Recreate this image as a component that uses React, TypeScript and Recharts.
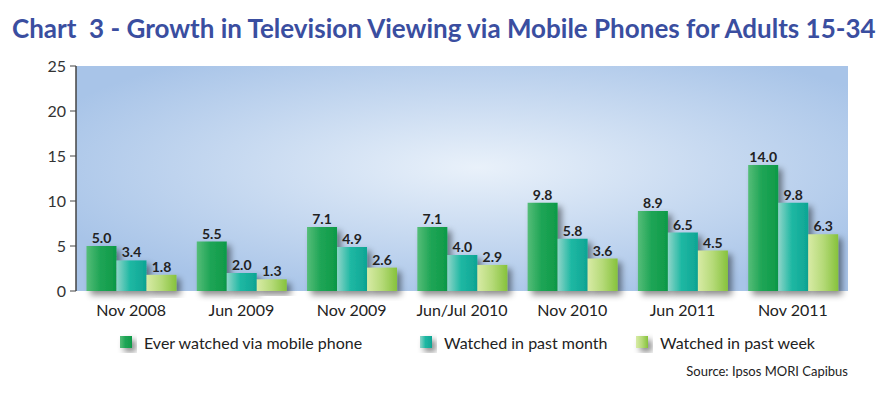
import { BarChart, Bar, XAxis, YAxis, CartesianGrid, LabelList } from 'recharts';

const periods = ['Nov 2008', 'Jun 2009', 'Nov 2009', 'Jun/Jul 2010', 'Nov 2010', 'Jun 2011', 'Nov 2011'];
const everWatched = [5.0, 5.5, 7.1, 7.1, 9.8, 8.9, 14.0];
const pastMonth = [3.4, 2.0, 4.9, 4.0, 5.8, 6.5, 9.8];
const pastWeek = [1.8, 1.3, 2.6, 2.9, 3.6, 4.5, 6.3];
const yTicks = [0, 5, 10, 15, 20, 25];
const boundaryTicks = [0, 1, 2, 3, 4, 5, 6, 7];

const seriesNames = ['Ever watched via mobile phone', 'Watched in past month', 'Watched in past week'];

const data = periods.map((p, i) => ({
  period: p,
  idx: i + 0.5,
  ever: everWatched[i],
  month: pastMonth[i],
  week: pastWeek[i],
}));

const FONT = 'Lato, "Open Sans", sans-serif';
const grads = ['gEver', 'gMonth', 'gWeek'];

function ChartLegend() {
  const lefts = [120, 420, 636];
  return (
    <div style={{ position: 'absolute', left: 0, top: 332, width: 885, height: 24, fontFamily: FONT }}>
      {seriesNames.map((n, i) => (
        <div key={n} style={{ position: 'absolute', left: lefts[i], top: 0, display: 'flex', alignItems: 'center' }}>
          <svg width={16} height={20} style={{ overflow: 'visible' }}>
            <rect x={0} y={4} width={12} height={12} fill={`url(#${grads[i]})`} filter="url(#shadow)" />
          </svg>
          <span style={{ fontSize: 16, color: '#222', marginLeft: 8 }}>{n}</span>
        </div>
      ))}
    </div>
  );
}

export default function App() {
  return (
    <div style={{ position: 'absolute', left: 0, top: 0, width: 885, height: 395, background: '#fff' }}>
      <div
        style={{
          position: 'absolute',
          left: 12,
          top: 12,
          whiteSpace: 'pre',
          fontFamily: FONT,
          fontWeight: 700,
          fontSize: 26,
          lineHeight: '32px',
          color: '#3a4ea0',
        }}
      >
        Chart  3 - Growth in Television Viewing via Mobile Phones for Adults 15-34
      </div>
      <div style={{ position: 'absolute', left: 0, top: 0 }}>
        <BarChart
          width={885}
          height={395}
          data={data}
          margin={{ top: 66, right: 37, bottom: 74, left: 0 }}
          barCategoryGap="9.5%"
          barGap={0}
        >
          <defs>
            <radialGradient id="bgGrad" cx="0.52" cy="0.45" r="0.6" fx="0.52" fy="0.45">
              <stop offset="0%" stopColor="#e9f1fa" />
              <stop offset="55%" stopColor="#c5d8f0" />
              <stop offset="100%" stopColor="#a8c4e8" />
            </radialGradient>
            <linearGradient id="gEver" x1="0" y1="0" x2="1" y2="0">
              <stop offset="0%" stopColor="#55bd78" />
              <stop offset="45%" stopColor="#1fa556" />
              <stop offset="100%" stopColor="#0e9a48" />
            </linearGradient>
            <linearGradient id="gMonth" x1="0" y1="0" x2="1" y2="0">
              <stop offset="0%" stopColor="#8fd5c9" />
              <stop offset="45%" stopColor="#1fb8a3" />
              <stop offset="100%" stopColor="#0ea594" />
            </linearGradient>
            <linearGradient id="gWeek" x1="0" y1="0" x2="1" y2="0">
              <stop offset="0%" stopColor="#d8eba6" />
              <stop offset="50%" stopColor="#b5da78" />
              <stop offset="100%" stopColor="#86c23c" />
            </linearGradient>
            <filter id="shadow" x="-20%" y="-20%" width="160%" height="160%">
              <feDropShadow dx={4} dy={4} stdDeviation={3} floodColor="#000" floodOpacity={0.45} />
            </filter>
          </defs>
          <CartesianGrid fill="url(#bgGrad)" horizontal={false} vertical={false} />
          <XAxis
            xAxisId="bounds"
            type="number"
            dataKey="idx"
            domain={[0, 7]}
            ticks={boundaryTicks}
            tick={false}
            height={0}
            axisLine={{ stroke: '#444', strokeWidth: 1.5 }}
            tickLine={{ stroke: '#444' }}
            tickSize={6}
          />
          <XAxis
            dataKey="period"
            height={30}
            axisLine={false}
            tickLine={false}
            tick={{ fill: '#222', fontSize: 16, fontFamily: FONT }}
            tickMargin={8}
            interval={0}
          />
          <XAxis xAxisId="top" dataKey="period" orientation="top" height={0} tick={false} tickLine={false} axisLine={{ stroke: '#555' }} />
          <YAxis
            domain={[0, 25]}
            ticks={yTicks}
            width={76}
            axisLine={{ stroke: '#444', strokeWidth: 1.5 }}
            tickLine={{ stroke: '#444' }}
            tickSize={6}
            tick={{ fill: '#333', fontSize: 16, fontFamily: FONT }}
            tickMargin={4}
          />
          <YAxis yAxisId="right" orientation="right" width={0} tick={false} tickLine={false} axisLine={{ stroke: '#555' }} />
          {(['ever', 'month', 'week'] as const).map((k, i) => (
            <Bar key={k} dataKey={k} name={seriesNames[i]} fill={`url(#${grads[i]})`} filter="url(#shadow)" isAnimationActive={false}>
              <LabelList
                dataKey={k}
                position="top"
                offset={3}
                formatter={(v: any) => Number(v).toFixed(1)}
                style={{ fill: '#222', fontSize: 14, fontWeight: 700, fontFamily: FONT, filter: 'none' }}
              />
            </Bar>
          ))}
        </BarChart>
      </div>
      <ChartLegend />
      <div
        style={{
          position: 'absolute',
          right: 37,
          top: 363,
          fontFamily: FONT,
          fontSize: 13,
          color: '#222',
        }}
      >
        Source: Ipsos MORI Capibus
      </div>
    </div>
  );
}
